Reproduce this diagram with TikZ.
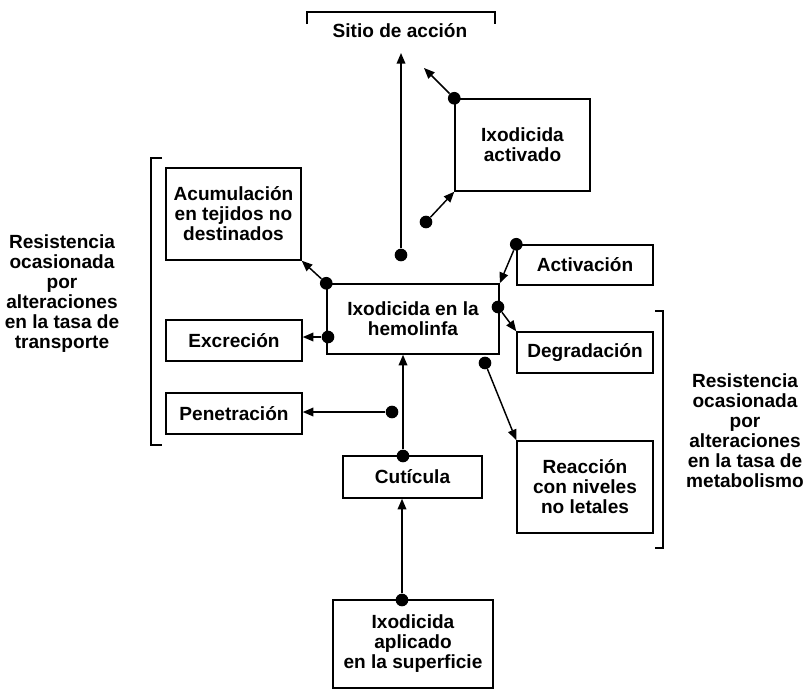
\documentclass[tikz,border=0pt]{standalone}
\usepackage{fontspec}
\setmainfont{Liberation Sans}
\usetikzlibrary{arrows.meta}
\begin{document}
\begin{tikzpicture}[x=0.75pt,y=-0.75pt,
  every node/.style={font=\bfseries\fontsize{14.3}{15}\selectfont, align=center},
  box/.style={draw, line width=1.1pt, inner sep=0pt},
  dot/.style={circle, fill, inner sep=0pt, minimum size=9.5pt},
  arr/.style={line width=1.1pt, -{Triangle[length=8pt,width=6.5pt]}},
  brk/.style={line width=1.1pt}]
\useasboundingbox (0,0) rectangle (806,690);

% boxes
\node[box, minimum width=101.25pt, minimum height=69pt] (act) at (522.5,145) {Ixodicida\\activado};
\node[box, minimum width=101.25pt, minimum height=69pt] (acu) at (233.5,214) {Acumulación\\en tejidos no\\destinados};
\node[box, minimum width=129pt, minimum height=52.5pt] (hem) at (413,319) {Ixodicida en la\\hemolinfa};
\node[box, minimum width=102pt, minimum height=30.75pt] (exc) at (234,340.5) {Excreción};
\node[box, minimum width=102pt, minimum height=30.75pt] (pen) at (234,413.5) {Penetración};
\node[box, minimum width=104.25pt, minimum height=31.5pt] (cut) at (412.5,477) {Cutícula};
\node[box, minimum width=120pt, minimum height=66pt] (sup) at (413,644) {Ixodicida\\aplicado\\en la superficie};
\node[box, minimum width=102pt, minimum height=30pt] (actv) at (585,265) {Activación};
\node[box, minimum width=102pt, minimum height=30.75pt] (deg) at (585,352.5) {Degradación};
\node[box, minimum width=102pt, minimum height=69pt] (rea) at (585,487) {Reacción\\con niveles\\no letales};

% labels
\node (sitio) at (400,31) {Sitio de acción};
\node (ltxt) at (62,294) {Resistencia\\ocasionada\\por\\alteraciones\\en la tasa de\\transporte};
\node (rtxt) at (745,431) {Resistencia\\ocasionada\\por\\alteraciones\\en la tasa de\\metabolismo};

% brackets
\draw[brk] (307,24) -- (307,12) -- (495,12) -- (495,24);
\draw[brk] (162,158) -- (151,158) -- (151,445) -- (162,445);
\draw[brk] (655,311) -- (663,311) -- (663,548) -- (655,548);

% dots
\node[dot] (d1) at (401,255) {};
\node[dot] (d2) at (act.north west) {};
\node[dot] (d3) at (426,222) {};
\node[dot] (d4) at (hem.north west) {};
\node[dot] (d5) at (328,337) {};
\node[dot] (d6) at (392,412) {};
\node[dot] (d7) at (403,456) {};
\node[dot] (d8) at (402,600) {};
\node[dot] (d9) at (actv.north west) {};
\node[dot] (d10) at (498,307) {};
\node[dot] (d11) at (485,363) {};

% free ends
\coordinate (t1) at (401,53);
\coordinate (t2) at (424,68);

% connectors
\draw[arr] (d1) -- (t1);
\draw[arr] (d2) -- (t2);
\draw[arr] (d3) -- (act.south west);
\draw[arr] (d4) -- (acu.south east);
\draw[arr] (d5) -- (d5 -| exc.east);
\draw[arr] (d6) -- (d6 -| pen.east);
\draw[arr] (d7) -- (d7 |- hem.south);
\draw[arr] (d8) -- (d8 |- cut.south);
\draw[arr] (d9) -- (hem.north east);
\draw[arr] (d10) -- (deg.north west);
\draw[arr] (d11) -- (rea.north west);
\end{tikzpicture}
\end{document}
